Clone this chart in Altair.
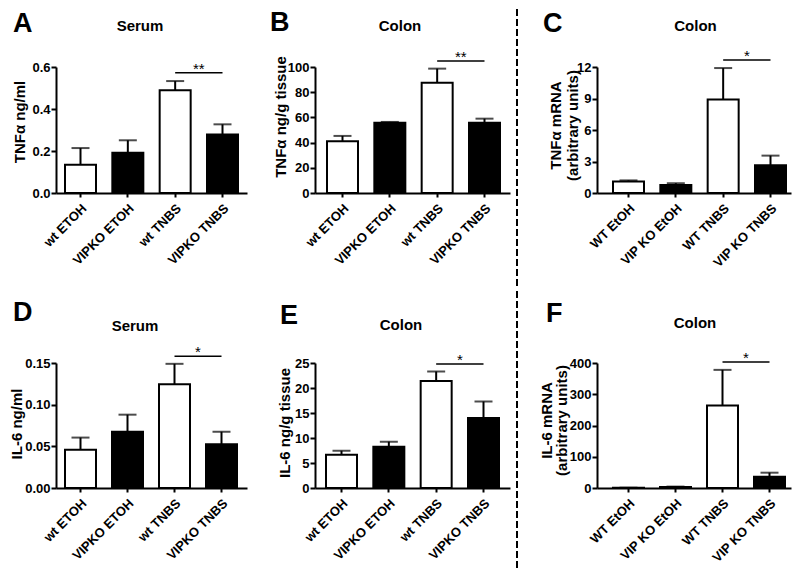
import altair as alt
import pandas as pd

FONT = "Liberation Sans"

# ---------------- data ----------------
groups_elisa = ["wt ETOH", "VIPKO ETOH", "wt TNBS", "VIPKO TNBS"]
groups_mrna = ["WT EtOH", "VIP KO EtOH", "WT TNBS", "VIP KO TNBS"]
bar_fill = ["white", "black", "white", "black"]

a_mean = [0.135, 0.192, 0.489, 0.279]
a_top = [0.214, 0.251, 0.533, 0.327]
b_mean = [41.0, 55.8, 87.5, 55.8]
b_top = [45.3, 56.4, 98.7, 59.0]
c_mean = [1.10, 0.76, 8.9, 2.65]
c_top = [1.20, 0.93, 11.9, 3.56]
d_mean = [0.046, 0.0675, 0.1245, 0.0525]
d_top = [0.0605, 0.088, 0.149, 0.0675]
e_mean = [6.65, 8.25, 21.4, 14.0]
e_top = [7.45, 9.25, 23.3, 17.3]
f_mean = [1.0, 3.5, 264.0, 36.0]
f_top = [1.0, 4.5, 378.0, 49.0]

sig_levels = [0.573, 104.8, 12.67, 0.158, 24.8, 403.0]
sig_stars = ["**", "**", "*", "*", "*", "*"]
letters = ["A", "B", "C", "D", "E", "F"]
panel_titles = ["Serum", "Colon", "Colon", "Serum", "Colon", "Colon"]
y_titles = [
    "TNFα ng/ml",
    "TNFα ng/g tissue",
    ["TNFα mRNA", "(arbitrary units)"],
    "IL-6 ng/ml",
    "IL-6 ng/g tissue",
    ["IL-6 mRNA", "(arbitrary units)"],
]
y_max = [0.6, 100, 12, 0.15, 25, 400]
y_ticks = [
    [0, 0.2, 0.4, 0.6],
    [0, 20, 40, 60, 80, 100],
    [0, 3, 6, 9, 12],
    [0, 0.05, 0.10, 0.15],
    [0, 5, 10, 15, 20, 25],
    [0, 100, 200, 300, 400],
]
y_formats = [".1f", "d", "d", ".2f", "d", "d"]

# ---------------- layout (pixels) ----------------
# box = (left, top, right, bottom) extent of each panel around its plot area
geoms = [
    dict(W=191, H=126, Lb=8, Rb=183, box=(48, 59, 15, 97), letter=(-43, -56), title=(84, -41),
         ytx=-37, yty=-8.5, lh=17, dash=None),
    dict(W=195, H=126, Lb=11, Rb=186, box=(53, 59, 20, 97), letter=(-45, -57), title=(85, -41),
         ytx=-34.7, yty=-13.5, lh=17, dash=202),
    dict(W=194, H=126, Lb=15, Rb=190, box=(67, 59, 1, 97), letter=(-54, -56), title=(98.5, -41.5),
         ytx=-42, yty=-5, lh=17, dash=None),
    dict(W=191, H=125, Lb=8, Rb=182, box=(48, 73, 15, 81), letter=(-43, -63), title=(79, -37),
         ytx=-40, yty=-2, lh=16, dash=None),
    dict(W=195, H=125, Lb=10, Rb=185, box=(53, 73, 20, 81), letter=(-35, -60), title=(86, -38),
         ytx=-31, yty=-3, lh=16, dash=202),
    dict(W=194, H=125, Lb=15, Rb=189, box=(67, 73, 1, 81), letter=(-51, -62), title=(98, -40.5),
         ytx=-51, yty=-5.5, lh=15.5, dash=None),
]

one_row = pd.DataFrame({"k": [0]})


def panel(i, cats, means, tops):
    g = geoms[i]
    W, H = g["W"], g["H"]
    bw = 31.0
    start, end = g["Lb"] + 1, g["Rb"] - 1
    span = end - start
    step = (span - bw) / 3.0
    p_in = 1 - bw / step
    p_out = (W / step - 4 + p_in) / 2
    al = start / (W - span)

    df = pd.DataFrame({"g": cats, "m": means, "t": tops, "c": bar_fill})
    sig_df = pd.DataFrame({"g": [cats[2], cats[3]], "m": [sig_levels[i]] * 2})
    star_df = pd.DataFrame({"g": [cats[2]], "m": [sig_levels[i]], "s": [sig_stars[i]]})

    xscale = alt.Scale(domain=cats, paddingInner=p_in, paddingOuter=p_out, align=al)
    xaxis = alt.Axis(
        title=None, labelAngle=315, labelAlign="right", labelBaseline="middle",
        labelFont=FONT, labelFontSize=13, labelFontWeight="bold", labelColor="black",
        labelPadding=9, labelOffset=4, tickSize=4, tickWidth=2, tickColor="black",
        domainWidth=2, domainColor="black", grid=False, labelOverlap=False,
    )
    yscale = alt.Scale(domain=[0, y_max[i]], nice=False, zero=True)
    yaxis = alt.Axis(
        title=y_titles[i], values=y_ticks[i], format=y_formats[i],
        labelFont=FONT, labelFontSize=13, labelFontWeight="bold", labelColor="black",
        labelPadding=1, tickSize=5, tickWidth=2, tickColor="black",
        domainWidth=2, domainColor="black", grid=False, labelOverlap=False,
        titleFont=FONT, titleFontSize=15, titleFontWeight="bold", titleColor="black",
        titleX=g["ytx"], titleY=H / 2 + g["yty"], titleAlign="center",
        titleBaseline="middle", titleLineHeight=g["lh"],
    )
    X = alt.X("g:N", scale=xscale, axis=xaxis)
    Y = alt.Y("m:Q", scale=yscale, axis=yaxis)

    err = alt.Chart(df).mark_rule(color="black", strokeWidth=2).encode(x=X, y=Y, y2="t:Q")
    cap = alt.Chart(df).mark_tick(color="black", thickness=2, size=18, orient="horizontal").encode(
        x=X, y=alt.Y("t:Q", scale=yscale, axis=yaxis)
    )
    bars = alt.Chart(df).mark_bar(stroke="black", strokeWidth=2).encode(
        x=X, y=Y, fill=alt.Fill("c:N", scale=None)
    )
    sig = alt.Chart(sig_df).mark_line(color="black", strokeWidth=1.5).encode(x=X, y=Y)
    star = alt.Chart(star_df).mark_text(
        font=FONT, fontSize=15, color="black", baseline="alphabetic", dy=1, dx=step / 2
    ).encode(x=X, y=Y, text="s:N")

    lx, ly = g["letter"]
    letter = alt.Chart(one_row).mark_text(
        font=FONT, fontSize=27, fontWeight="bold", color="black", align="left", baseline="top"
    ).encode(x=alt.value(lx), y=alt.value(ly), text=alt.value(letters[i]))
    tx, ty = g["title"]
    ttl = alt.Chart(one_row).mark_text(
        font=FONT, fontSize=15, fontWeight="bold", color="black", align="center", baseline="middle"
    ).encode(x=alt.value(tx), y=alt.value(ty), text=alt.value(panel_titles[i]))
    bl, bt, br, bb = g["box"]
    # invisible frame that fixes the panel's layout extent
    box = alt.Chart(one_row).mark_rule(opacity=0).encode(
        x=alt.value(-bl), x2=alt.value(W + br), y=alt.value(-bt), y2=alt.value(H + bb)
    )
    layers = [err, cap, bars, sig, star, letter, ttl, box]
    if g["dash"] is not None:
        dash = alt.Chart(one_row).mark_rule(color="black", strokeWidth=2, strokeDash=[7, 3]).encode(
            x=alt.value(g["dash"]), y=alt.value(-bt + 1), y2=alt.value(H + bb - 1)
        )
        layers.append(dash)
    return alt.layer(*layers).properties(width=W, height=H)


pA = panel(0, groups_elisa, a_mean, a_top)
pB = panel(1, groups_elisa, b_mean, b_top)
pC = panel(2, groups_mrna, c_mean, c_top)
pD = panel(3, groups_elisa, d_mean, d_top)
pE = panel(4, groups_elisa, e_mean, e_top)
pF = panel(5, groups_mrna, f_mean, f_top)

row1 = alt.hconcat(pA, pB, pC, spacing=0)
row2 = alt.hconcat(pD, pE, pF, spacing=0)

chart = (
    alt.vconcat(row1, row2, spacing=0)
    .properties(padding=0, background="white")
    .configure_view(stroke=None)
)

chart.save("out.html", embed_options={"renderer": "svg", "actions": False})
